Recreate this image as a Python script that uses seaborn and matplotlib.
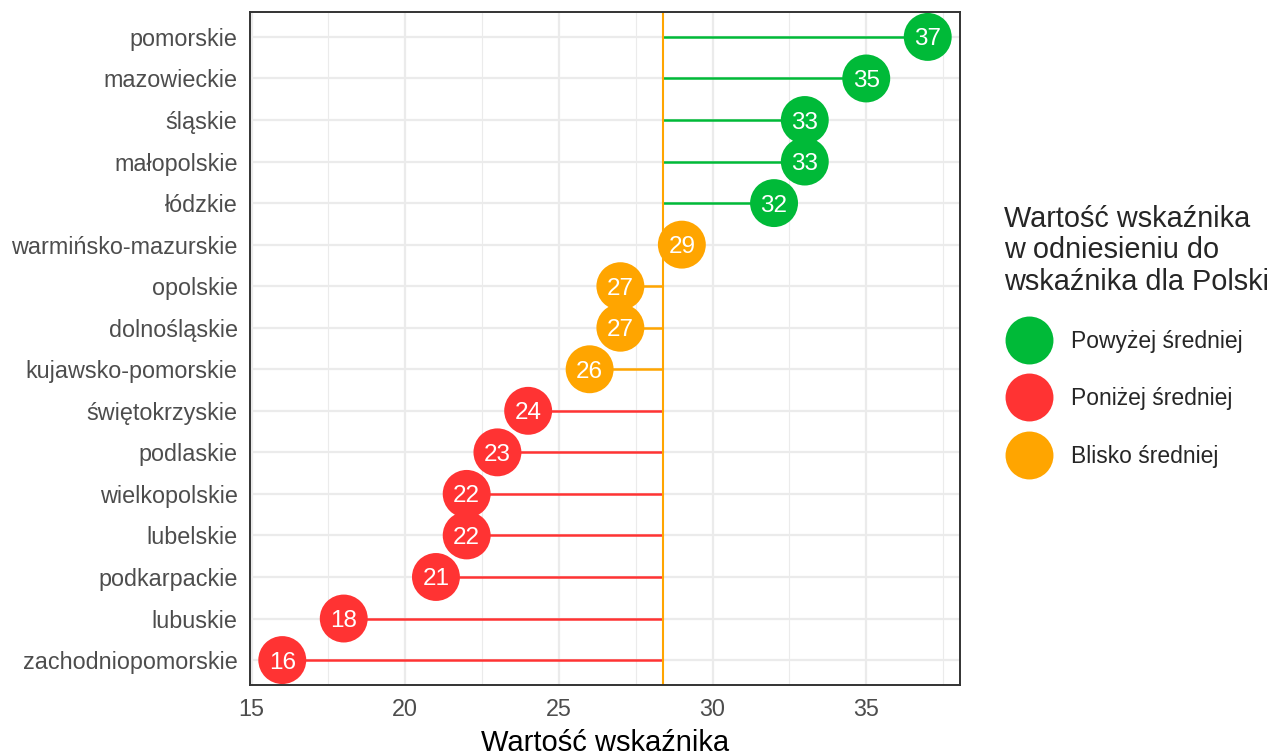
import matplotlib
matplotlib.use('Agg')
import numpy as np
import pandas as pd
import matplotlib.pyplot as plt
import seaborn as sns
from matplotlib.lines import Line2D

regions = ['pomorskie', 'mazowieckie', 'śląskie', 'małopolskie', 'łódzkie',
           'warmińsko-mazurskie', 'opolskie', 'dolnośląskie', 'kujawsko-pomorskie',
           'świętokrzyskie', 'podlaskie', 'wielkopolskie', 'lubelskie',
           'podkarpackie', 'lubuskie', 'zachodniopomorskie']
values = [37, 35, 33, 33, 32, 29, 27, 27, 26, 24, 23, 22, 22, 21, 18, 16]
groups = ['Powyżej średniej'] * 5 + ['Blisko średniej'] * 4 + ['Poniżej średniej'] * 7
mean_value = 28.4

group_order = ['Powyżej średniej', 'Poniżej średniej', 'Blisko średniej']
group_colors = ['#00BA38', '#FF3333', '#FFA500']
palette = dict(zip(group_order, group_colors))

df = pd.DataFrame({'region': regions, 'value': values, 'group': groups})

sns.set_style('white')
plt.rcParams['font.family'] = ['Liberation Sans', 'DejaVu Sans']

fig = plt.figure(figsize=(12.77, 7.53), dpi=100)
ax = fig.add_axes([250 / 1277, 68 / 753, 710 / 1277, 673 / 753])

# lollipop sticks from the Polish average
ax.hlines(df['region'], mean_value, df['value'],
          colors=[palette[g] for g in df['group']], lw=1.8, zorder=2)
ax.axvline(mean_value, color='#FFA500', lw=1.5, zorder=2.5)

sns.scatterplot(data=df, x='value', y='region', hue='group', palette=palette,
                s=1190, linewidth=0, legend=False, ax=ax, zorder=3)

for r, v in zip(df['region'], df['value']):
    ax.text(v, r, str(v), color='white', fontsize=17.5, ha='center',
            va='center_baseline', zorder=4)

ax.set_xlim(14.95, 38.05)
ax.set_ylim(len(regions) - 0.4, -0.6)
ax.set_xticks([15, 20, 25, 30, 35])
ax.set_xticks([17.5, 22.5, 27.5, 32.5, 37.5], minor=True)
ax.grid(True, which='major', color='#EBEBEB', lw=1.6, zorder=0)
ax.grid(True, which='minor', axis='x', color='#EBEBEB', lw=0.8, zorder=0)
ax.set_axisbelow(True)

for sp in ax.spines.values():
    sp.set_color('#333333')
    sp.set_linewidth(1.4)

ax.tick_params(axis='both', which='major', length=5, width=1.4, color='#333333',
               labelsize=16.8, labelcolor='#4D4D4D', pad=4)
ax.tick_params(axis='x', which='minor', length=0)
ax.set_xlabel('Wartość wskaźnika', fontsize=21, color='black', labelpad=6)
ax.set_ylabel('')

handles = [Line2D([], [], marker='o', ms=34.5, lw=0, color=c, markeredgewidth=0)
           for c in group_colors]
leg = fig.legend(handles, group_order, loc='upper left',
                 bbox_to_anchor=(0.774, 0.749), frameon=False,
                 title='Wartość wskaźnika\nw odniesieniu do\nwskaźnika dla Polski',
                 title_fontsize=20.8, fontsize=16.5, alignment='left',
                 handlelength=2.1, handletextpad=0.8, labelspacing=1.5,
                 borderpad=0.2)
leg.get_title().set_linespacing(1.15)

fig.savefig('out.png', dpi=100)
